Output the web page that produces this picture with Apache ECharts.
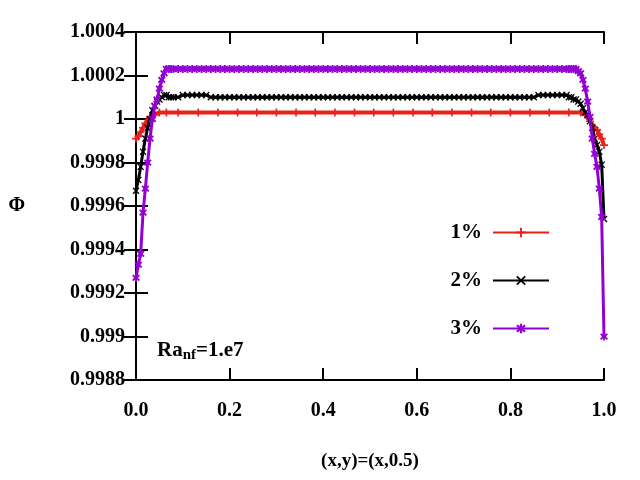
<!DOCTYPE html>
<html>
<head>
<meta charset="utf-8">
<script src="https://cdn.jsdelivr.net/npm/echarts@6/dist/echarts.min.js"></script>
<style>
  html, body { margin: 0; padding: 0; background: #fff; }
  #chart { width: 640px; height: 480px; }
</style>
</head>
<body>
<div id="chart"></div>
<script>
// shared x positions for the 2% and 3% curves (denser near the walls)
var xGrid = [
  0, 0.005, 0.01, 0.015, 0.02, 0.025, 0.03, 0.035, 0.04, 0.045, 0.05, 0.055, 0.06, 0.065, 0.07, 0.075,
  0.08, 0.09, 0.10, 0.11, 0.12, 0.13, 0.14, 0.15, 0.16, 0.17,
  0.18, 0.19, 0.20, 0.21, 0.22, 0.23, 0.24, 0.25, 0.26, 0.27,
  0.28, 0.29, 0.30, 0.31, 0.32, 0.33, 0.34, 0.35, 0.36, 0.37,
  0.38, 0.39, 0.40, 0.41, 0.42, 0.43, 0.44, 0.45, 0.46, 0.47,
  0.48, 0.49, 0.50, 0.51, 0.52, 0.53, 0.54, 0.55, 0.56, 0.57,
  0.58, 0.59, 0.60, 0.61, 0.62, 0.63, 0.64, 0.65, 0.66, 0.67,
  0.68, 0.69, 0.70, 0.71, 0.72, 0.73, 0.74, 0.75, 0.76, 0.77,
  0.78, 0.79, 0.80, 0.81, 0.82, 0.83, 0.84, 0.85, 0.86, 0.87,
  0.88, 0.89, 0.90, 0.91, 0.92,
  0.925, 0.93, 0.935, 0.94, 0.945, 0.95, 0.955, 0.96, 0.965, 0.97, 0.975, 0.98, 0.985, 0.99, 0.995, 1.0
];

var phi2 = [
  0.99967, 0.99972, 0.99978, 0.99985, 0.99991, 0.99996, 1.00000, 1.00004, 1.00006, 1.00008, 1.00009, 1.00010, 1.00011, 1.00011, 1.00010, 1.00010,
  1.00010, 1.00010, 1.00011, 1.00011, 1.00011, 1.00011, 1.00011, 1.00011, 1.00010, 1.00010,
  1.00010, 1.00010, 1.00010, 1.00010, 1.00010, 1.00010, 1.00010, 1.00010, 1.00010, 1.00010,
  1.00010, 1.00010, 1.00010, 1.00010, 1.00010, 1.00010, 1.00010, 1.00010, 1.00010, 1.00010,
  1.00010, 1.00010, 1.00010, 1.00010, 1.00010, 1.00010, 1.00010, 1.00010, 1.00010, 1.00010,
  1.00010, 1.00010, 1.00010, 1.00010, 1.00010, 1.00010, 1.00010, 1.00010, 1.00010, 1.00010,
  1.00010, 1.00010, 1.00010, 1.00010, 1.00010, 1.00010, 1.00010, 1.00010, 1.00010, 1.00010,
  1.00010, 1.00010, 1.00010, 1.00010, 1.00010, 1.00010, 1.00010, 1.00010, 1.00010, 1.00010,
  1.00010, 1.00010, 1.00010, 1.00010, 1.00010, 1.00010, 1.00010, 1.00010, 1.00011, 1.00011,
  1.00011, 1.00011, 1.00011, 1.00011, 1.00011,
  1.00010, 1.00010, 1.00009, 1.00009, 1.00008, 1.00007, 1.00005, 1.00003, 1.00002, 0.99999, 0.99996, 0.99991, 0.99988, 0.99985, 0.99979, 0.99954
];

var phi3 = [
  0.99927, 0.99933, 0.99938, 0.99957, 0.99968, 0.99980, 0.99991, 1.00000, 1.00006, 1.00009, 1.00014, 1.00018, 1.00021, 1.00023, 1.00023, 1.00023,
  1.00023, 1.00023, 1.00023, 1.00023, 1.00023, 1.00023, 1.00023, 1.00023, 1.00023, 1.00023,
  1.00023, 1.00023, 1.00023, 1.00023, 1.00023, 1.00023, 1.00023, 1.00023, 1.00023, 1.00023,
  1.00023, 1.00023, 1.00023, 1.00023, 1.00023, 1.00023, 1.00023, 1.00023, 1.00023, 1.00023,
  1.00023, 1.00023, 1.00023, 1.00023, 1.00023, 1.00023, 1.00023, 1.00023, 1.00023, 1.00023,
  1.00023, 1.00023, 1.00023, 1.00023, 1.00023, 1.00023, 1.00023, 1.00023, 1.00023, 1.00023,
  1.00023, 1.00023, 1.00023, 1.00023, 1.00023, 1.00023, 1.00023, 1.00023, 1.00023, 1.00023,
  1.00023, 1.00023, 1.00023, 1.00023, 1.00023, 1.00023, 1.00023, 1.00023, 1.00023, 1.00023,
  1.00023, 1.00023, 1.00023, 1.00023, 1.00023, 1.00023, 1.00023, 1.00023, 1.00023, 1.00023,
  1.00023, 1.00023, 1.00023, 1.00023, 1.00023,
  1.00023, 1.00023, 1.00023, 1.00023, 1.00022, 1.00021, 1.00018, 1.00014, 1.00008, 1.00001, 0.99991, 0.99984, 0.99978, 0.99968, 0.99955, 0.99900
];

// 1% curve has its own, coarser set of points
var xRed = [
  0, 0.005, 0.01, 0.015, 0.02, 0.03, 0.04, 0.05, 0.065,
  0.09, 0.133, 0.175, 0.217, 0.258, 0.3, 0.342, 0.383, 0.425, 0.467, 0.508,
  0.55, 0.592, 0.633, 0.675, 0.717, 0.758, 0.8, 0.842, 0.883, 0.925,
  0.95, 0.96, 0.97, 0.98, 0.985, 0.99, 0.995, 1.0
];
var phi1 = [
  0.99991, 0.99992, 0.99994, 0.99996, 0.99998, 1.00001, 1.00002, 1.00003, 1.00003,
  1.00003, 1.00003, 1.00003, 1.00003, 1.00003, 1.00003, 1.00003, 1.00003, 1.00003, 1.00003, 1.00003,
  1.00003, 1.00003, 1.00003, 1.00003, 1.00003, 1.00003, 1.00003, 1.00003, 1.00003, 1.00003,
  1.00003, 1.00002, 0.99999, 0.99996, 0.99995, 0.99993, 0.99991, 0.99988
];

var seriesNames = ['1%', '2%', '3%'];
var seriesColors = ['#e8221a', '#000000', '#9400d3'];
var yTickLabels = ['0.9988', '0.999', '0.9992', '0.9994', '0.9996', '0.9998', '1', '1.0002', '1.0004'];
var xTickLabels = ['0.0', '0.2', '0.4', '0.6', '0.8', '1.0'];

var serif = "'Liberation Serif', 'DejaVu Serif', serif";

// marker shapes: plus, cross, star
var plusSym = 'path://M-0.6,-3H0.6V-0.6H3V0.6H0.6V3H-0.6V0.6H-3V-0.6H-0.6Z';
var crossSym = 'path://M-3,-2.2L-2.2,-3L0,-0.8L2.2,-3L3,-2.2L0.8,0L3,2.2L2.2,3L0,0.8L-2.2,3L-3,2.2L-0.8,0Z';
var starSym = 'path://M-0.7,-3.2H0.7V-1.4L2,-2.7L3,-1.7L1.7,-0.4V0.4L3,1.7L2,2.7L0.7,1.4V3.2H-0.7V1.4L-2,2.7L-3,1.7L-1.7,0.4V-0.4L-3,-1.7L-2,-2.7L-0.7,-1.4Z';

function pairs(xs, ys) {
    return xs.map(function (x, i) { return [x, ys[i]]; });
}

var chart = echarts.init(document.getElementById('chart'), null, { renderer: 'canvas' });

var option = {
    animation: false,
    backgroundColor: '#fff',
    grid: { left: 136, right: 36, top: 32, bottom: 100, containLabel: false },
    legend: {
        orient: 'vertical',
        right: 85,
        top: 217,
        align: 'right',
        itemWidth: 56,
        itemHeight: 12,
        itemGap: 27,
        data: seriesNames,
        textStyle: {
            fontFamily: serif, fontWeight: 'bold', fontSize: 21, color: '#000',
            padding: [0, 6, 0, 0]
        }
    },
    xAxis: [{
        type: 'value', min: 0, max: 1, interval: 0.2,
        name: '(x,y)=(x,0.5)', nameLocation: 'middle', nameGap: 72,
        nameTextStyle: { fontFamily: serif, fontWeight: 'bold', fontSize: 19, color: '#000' },
        axisLine: { lineStyle: { color: '#000', width: 2 } },
        axisTick: { inside: true, length: 12, lineStyle: { width: 2 } },
        axisLabel: {
            margin: 21, fontFamily: serif, fontWeight: 'bold', fontSize: 20, color: '#000',
            formatter: function (v) { return xTickLabels[Math.round(v / 0.2)]; }
        },
        splitLine: { show: false }
    }, {
        type: 'value', min: 0, max: 1, interval: 0.2, position: 'top',
        axisLine: { lineStyle: { color: '#000', width: 2 } },
        axisTick: { inside: true, length: 12, lineStyle: { width: 2 } },
        axisLabel: { show: false },
        splitLine: { show: false }
    }],
    yAxis: [{
        type: 'value', min: 0.9988, max: 1.0004, interval: 0.0002,
        name: 'Φ', nameLocation: 'middle', nameRotate: 0, nameGap: 111,
        nameTextStyle: { fontFamily: serif, fontWeight: 'bold', fontSize: 20, color: '#000' },
        axisLine: { show: true, lineStyle: { color: '#000', width: 2 } },
        axisTick: { inside: true, length: 12, lineStyle: { width: 2 } },
        axisLabel: {
            margin: 11, fontFamily: serif, fontWeight: 'bold', fontSize: 20, color: '#000',
            formatter: function (v) { return yTickLabels[Math.round((v - 0.9988) / 0.0002)]; }
        },
        splitLine: { show: false }
    }, {
        type: 'value', min: 0.9988, max: 1.0004, interval: 0.0002, position: 'right',
        axisLine: { show: true, lineStyle: { color: '#000', width: 2 } },
        axisTick: { inside: true, length: 12, lineStyle: { width: 2 } },
        axisLabel: { show: false },
        splitLine: { show: false }
    }],
    series: [{
        name: seriesNames[0], type: 'line', data: pairs(xRed, phi1),
        color: seriesColors[0], symbol: plusSym, symbolSize: 8, showAllSymbol: true,
        lineStyle: { width: 4 }, z: 2
    }, {
        name: seriesNames[1], type: 'line', data: pairs(xGrid, phi2),
        color: seriesColors[1], symbol: crossSym, symbolSize: 7, showAllSymbol: true,
        lineStyle: { width: 3 }, z: 3
    }, {
        name: seriesNames[2], type: 'line', data: pairs(xGrid, phi3),
        color: seriesColors[2], symbol: starSym, symbolSize: 8, showAllSymbol: true,
        lineStyle: { width: 3 }, z: 4
    }],
    graphic: [{
        type: 'text', left: 157, top: 340,
        style: {
            text: '{a|Ra}{s|nf}{a|=1.e7}',
            rich: {
                a: { fontFamily: serif, fontWeight: 'bold', fontSize: 21, fill: '#000' },
                s: { fontFamily: serif, fontWeight: 'bold', fontSize: 15, fill: '#000', padding: [10, 0, 0, 0] }
            }
        }
    }]
};

chart.setOption(option);
</script>
</body>
</html>
